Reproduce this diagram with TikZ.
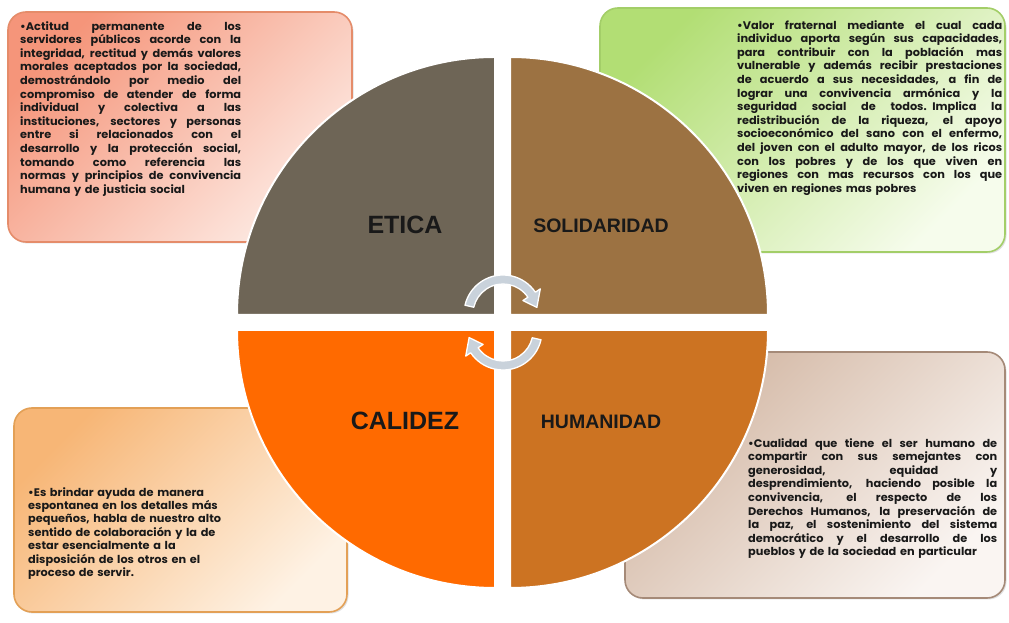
\documentclass[tikz,border=0pt]{standalone}
\usepackage{fontspec}
\setmainfont{Poppins}[FakeStretch=1.03]
\newfontfamily\titlefont{Liberation Sans}
\usetikzlibrary{shadows}
\definecolor{eticac}{HTML}{6E6556}
\definecolor{solic}{HTML}{9C7242}
\definecolor{calic}{HTML}{FF6A00}
\definecolor{humac}{HTML}{CC7322}
\definecolor{arrowc}{HTML}{C9D2DB}
\definecolor{tlA}{HTML}{F5957A}
\definecolor{tlB}{HTML}{FDEAE3}
\definecolor{tlD}{HTML}{E58C6A}
\definecolor{trA}{HTML}{B2DE74}
\definecolor{trB}{HTML}{F6FCEC}
\definecolor{trD}{HTML}{A3CE68}
\definecolor{blA}{HTML}{F7B676}
\definecolor{blB}{HTML}{FEF2E4}
\definecolor{blD}{HTML}{E3A056}
\definecolor{brA}{HTML}{D2B6A2}
\definecolor{brB}{HTML}{FAF5F2}
\definecolor{brD}{HTML}{A58A78}
\newcommand\lnstrut{\rule{0pt}{9pt}}
\newcommand\jline[1]{\hbox to \hsize{\spaceskip=\fontdimen2\font plus 1fil\relax\lnstrut #1}}
\newcommand\pline[1]{\hbox{\lnstrut #1}}
\begin{document}
\begin{tikzpicture}[x=1pt,y=1pt,
  box/.style={rounded corners=18pt, line width=1.6pt, inner sep=0pt,
    drop shadow={opacity=0.25,shadow xshift=1.5pt,shadow yshift=-1.5pt}},
  body/.style={anchor=north west, inner sep=0pt, text width=#1, align=left,
    font=\bfseries\fontsize{11}{13.6}\selectfont, text=black!90},
  title/.style={font=\titlefont\bfseries\fontsize{#1}{#1}\selectfont, text=black!90},
  quad/.style={draw=white, line width=2pt},
  cyc/.style={fill=arrowc, draw=white, line width=1.3pt, line join=round}
]
\useasboundingbox (0,0) rectangle (1009,623);
\fill[white] (0,0) rectangle (1009,623);

% text boxes
\node[box, draw=tlD, top color=tlA, bottom color=tlB, shading angle=45,
  minimum width=344pt, minimum height=230pt] (tlbox) at (180,496) {};
\node[box, draw=trD, top color=trA, bottom color=trB, shading angle=45,
  minimum width=405pt, minimum height=244pt] (trbox) at (802.5,493) {};
\node[box, draw=blD, top color=blA, bottom color=blB, shading angle=45,
  minimum width=333pt, minimum height=204pt] (blbox) at (180.5,113) {};
\node[box, draw=brD, top color=brA, bottom color=brB, shading angle=45,
  minimum width=380pt, minimum height=246pt] (brbox) at (815,148) {};

% quadrants
\path[quad, fill=eticac] (495,308) -- (237,308) arc[start angle=180, end angle=90, radius=258] -- cycle;
\path[quad, fill=solic] (510,308) -- (510,566) arc[start angle=90, end angle=0, radius=258] -- cycle;
\path[quad, fill=calic] (495,293) -- (237,293) arc[start angle=180, end angle=270, radius=258] -- cycle;
\path[quad, fill=humac] (510,293) -- (768,293) arc[start angle=0, end angle=-90, radius=258] -- cycle;

% cycle arrows
\begin{scope}[shift={(503,309)}]
\path[cyc] (167:39) arc[start angle=167, end angle=34, radius=39] -- (34:45) -- (11:34.5)
  -- (34:24) -- (34:30) arc[start angle=34, end angle=167, radius=30] -- cycle;
\end{scope}
\begin{scope}[shift={(503,292)}, rotate=180]
\path[cyc] (167:39) arc[start angle=167, end angle=34, radius=39] -- (34:45) -- (11:34.5)
  -- (34:24) -- (34:30) arc[start angle=34, end angle=167, radius=30] -- cycle;
\end{scope}

% titles
\node[title=25] (etica) at (405,398) {ETICA};
\node[title=19.5] (soli) at (601,397) {SOLIDARIDAD};
\node[title=25] (cali) at (405,202) {CALIDEZ};
\node[title=19.5] (huma) at (601,201) {HUMANIDAD};

% texts
\node[body=221pt] (tltext) at (20,602) {%
\jline{•Actitud permanente de los}
\jline{servidores públicos acorde con la}
\jline{integridad, rectitud y demás valores}
\jline{morales aceptados por la sociedad,}
\jline{demostrándolo por medio del}
\jline{compromiso de atender de forma}
\jline{individual y colectiva a las}
\jline{instituciones, sectores y personas}
\jline{entre si relacionados con el}
\jline{desarrollo y la protección social,}
\jline{tomando como referencia las}
\jline{normas y principios de convivencia}
\pline{humana y de justicia social}};

\node[body=265pt] (trtext) at (737,603) {%
\jline{•Valor fraternal mediante el cual cada}
\jline{individuo aporta según sus capacidades,}
\jline{para contribuir con la población mas}
\jline{vulnerable y además recibir prestaciones}
\jline{de acuerdo a sus necesidades, a fin de}
\jline{lograr una convivencia armónica y la}
\jline{seguridad social de todos. Implica la}
\jline{redistribución de la riqueza, el apoyo}
\jline{socioeconómico del sano con el enfermo,}
\jline{del joven con el adulto mayor, de los ricos}
\jline{con los pobres y de los que viven en}
\jline{regiones con mas recursos con los que}
\pline{viven en regiones mas pobres}};

\node[body=220pt, font=\bfseries\fontsize{11}{13.4}\selectfont] (bltext) at (28,136) {%
\pline{•Es brindar ayuda de manera}
\pline{espontanea en los detalles más}
\pline{pequeños, habla de nuestro alto}
\pline{sentido de colaboración y la de}
\pline{estar esencialmente a la}
\pline{disposición de los otros en el}
\pline{proceso de servir.}};

\node[body=249pt] (brtext) at (748,185) {%
\jline{•Cualidad que tiene el ser humano de}
\jline{compartir con sus semejantes con}
\jline{generosidad, equidad y}
\jline{desprendimiento, haciendo posible la}
\jline{convivencia, el respecto de los}
\jline{Derechos Humanos, la preservación de}
\jline{la paz, el sostenimiento del sistema}
\jline{democrático y el desarrollo de los}
\pline{pueblos y de la sociedad en particular}};
\end{tikzpicture}
\end{document}
